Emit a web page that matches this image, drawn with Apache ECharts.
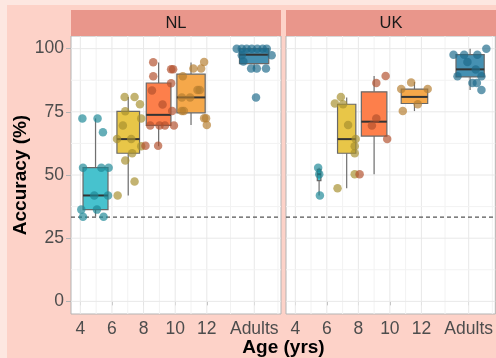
<!DOCTYPE html>
<html><head><meta charset="utf-8">
<script src="https://cdn.jsdelivr.net/npm/echarts@6/dist/echarts.min.js"></script>
<style>html,body{margin:0;padding:0;background:#fdd2c8}#c{width:496px;height:358px}</style>
</head><body><div id="c"></div>
<script>
// ---------- data ----------
const panels = ['NL', 'UK'];
const groups = ['4-5', '6-7', '8-9', '10-11', 'Adults'];
const xTickValues = [4, 6, 8, 10, 12, 15];
const xTickLabels = ['4', '6', '8', '10', '12', 'Adults'];
const xMinorBreaks = [5, 7, 9, 11, 13.5, 16.5];
const yTickValues = [0, 25, 50, 75, 100];
const yMinorBreaks = [12.5, 37.5, 62.5, 87.5];
const chanceLevel = 33.33;

// box stats per group: [xCenter, width, lowerWhisker, Q1, median, Q3, upperWhisker]
const nlBoxes = [
  [4.96, 1.58, 33.5, 36.3, 41.9, 52.9, 72.4],
  [7.03, 1.43, 41.9, 58.6, 64.2, 75.2, 80.9],
  [8.95, 1.56, 61.4, 69.6, 73.8, 86.4, 94.5],
  [11.00, 1.79, 69.8, 74.6, 80.7, 89.9, 94.5],
  [14.99, 1.85, 92.1, 94.1, 97.6, 100, 100]
];
const ukBoxes = [
  [5.51, 0.23, 41.9, 47.8, 50.3, 52.2, 52.9],
  [7.26, 1.16, 44.8, 58.6, 64.2, 78.0, 80.7],
  [9.00, 1.62, 50.3, 65.4, 71.1, 82.9, 89.2],
  [11.56, 1.68, 75.3, 78.3, 80.9, 84.0, 86.8],
  [15.09, 1.79, 83.6, 88.8, 91.8, 97.6, 100]
];

// jittered individual points [age, accuracy]
const nlPts45 = [[4.13,72.4],[5.09,72.4],[5.43,66.9],[4.17,52.9],[5.33,52.9],[5.79,52.9],[4.88,41.9],[5.75,41.9],[4.06,36.3],[5.05,36.3],[4.17,33.5],[5.47,33.5]];
const nlPts67 = [[6.80,80.9],[7.43,80.9],[7.77,78.0],[6.84,75.2],[7.85,72.4],[6.69,69.6],[6.32,64.2],[7.22,64.2],[7.85,61.4],[7.28,58.6],[6.84,55.7],[7.43,47.4],[6.36,41.9]];
const nlPts89 = [[8.61,94.6],[9.74,91.8],[9.87,91.8],[8.61,89.1],[9.74,86.3],[8.53,83.4],[9.20,77.9],[9.81,75.3],[8.42,69.6],[9.01,69.6],[9.35,69.6],[9.92,69.6],[8.92,61.6],[8.12,61.6]];
const nlPts1011 = [[11.83,94.7],[11.15,92.1],[11.64,92.1],[10.48,89.1],[11.41,83.6],[11.55,83.6],[10.42,80.7],[10.94,80.7],[10.42,75.3],[10.55,75.3],[11.83,72.5],[11.95,72.5],[12.0,69.8]];
const nlPtsAd = [[13.89,100],[14.21,100],[14.52,100],[14.84,100],[15.19,100],[15.53,100],[15.79,100],[16.10,97.4],[14.21,97.4],[14.31,94.9],[14.80,92.1],[15.16,92.1],[15.74,92.1],[15.11,80.7]];
const ukPts45 = [[5.45,52.9],[5.52,50.3],[5.56,41.9]];
const ukPts67 = [[6.89,80.9],[6.51,78.3],[7.03,78.0],[7.35,69.8],[7.83,64.2],[7.77,61.4],[7.77,58.6],[7.77,50.3],[6.68,44.8]];
const ukPts89 = [[9.73,89.2],[9.14,86.4],[9.14,72.4],[8.86,69.6],[9.83,64.2],[8.08,50.3]];
const ukPts1011 = [[11.35,86.6],[10.72,84.0],[12.40,84.0],[11.77,78.0],[10.82,75.3]];
const ukPtsAd = [[14.04,97.6],[14.71,97.6],[15.55,97.6],[16.12,100],[14.92,94.7],[15.45,91.7],[14.29,89.1],[15.81,89.1],[15.24,86.4],[15.52,86.4],[15.81,83.6]];

const nlPoints = [nlPts45, nlPts67, nlPts89, nlPts1011, nlPtsAd];
const ukPoints = [ukPts45, ukPts67, ukPts89, ukPts1011, ukPtsAd];

// ---------- styles ----------
const boxFill = ['#47c2ce', '#e8c648', '#fd7f4b', '#f5a84a', '#4590b2'];
const ptColor = ['#1c8796', '#a68f2e', '#b2502c', '#b57d2f', '#1d6a8a'];
const FONT = 'Liberation Sans, Arial, sans-serif';

const chart = echarts.init(document.getElementById('c'), null, {renderer: 'canvas'});

const gridDefs = [
  {left: 71, top: 36, width: 210, height: 278},
  {left: 286, top: 36, width: 210, height: 278}
];

const grids = gridDefs.map(g => Object.assign({show: true, backgroundColor: '#ffffff', borderColor: '#b3b3b3', borderWidth: 1}, g));

const xAxes = panels.map((p, i) => ({
  type: 'value', gridIndex: i, min: 3.41, max: 16.69,
  axisLine: {show: false},
  splitLine: {show: false},
  axisTick: {show: true, customValues: xTickValues, length: 4, lineStyle: {color: '#b3b3b3'}},
  axisLabel: {customValues: xTickValues, margin: 6, fontSize: 17.5, color: '#4d4d4d', fontFamily: FONT,
    formatter: v => { const k = xTickValues.indexOf(v); return k >= 0 ? xTickLabels[k] : ''; }}
}));
const yAxes = panels.map((p, i) => ({
  type: 'value', gridIndex: i, min: -5, max: 105,
  axisLine: {show: false},
  splitLine: {show: false},
  axisTick: {show: i === 0, customValues: yTickValues, length: 5, lineStyle: {color: '#b3b3b3'}},
  axisLabel: {show: i === 0, customValues: yTickValues, margin: 7, fontSize: 17.5, color: '#4d4d4d', fontFamily: FONT}
}));

const series = [];
// grid lines + chance line
panels.forEach((p, i) => {
  const gdata = [];
  xTickValues.forEach(v => gdata.push([v, 0, 1]));
  xMinorBreaks.forEach(v => gdata.push([v, 0, 0]));
  yTickValues.forEach(v => gdata.push([v, 1, 1]));
  yMinorBreaks.forEach(v => gdata.push([v, 1, 0]));
  gdata.push([chanceLevel, 1, 2]);
  series.push({
    type: 'custom', xAxisIndex: i, yAxisIndex: i, silent: true, z: 1,
    data: gdata,
    renderItem: (params, api) => {
      const cs = params.coordSys;
      const v = api.value(0), orient = api.value(1), kind = api.value(2);
      let shape;
      if (orient === 0) {
        const x = api.coord([v, 0])[0];
        shape = {x1: x, y1: cs.y, x2: x, y2: cs.y + cs.height};
      } else {
        const y = api.coord([4, v])[1];
        shape = {x1: cs.x, y1: y, x2: cs.x + cs.width, y2: y};
      }
      let style;
      if (kind === 1) style = {stroke: '#e8e8e8', lineWidth: 1};
      else if (kind === 0) style = {stroke: '#f2f2f2', lineWidth: 1};
      else style = {stroke: '#555555', lineWidth: 1.1, lineDash: [4, 3]};
      return {type: 'line', shape: shape, style: style, z2: kind === 2 ? 5 : 0};
    }
  });
});

// boxes
[nlBoxes, ukBoxes].forEach((boxes, i) => {
  series.push({
    type: 'custom', xAxisIndex: i, yAxisIndex: i, silent: true, z: 2,
    data: boxes.map((b, gi) => b.concat([gi])),
    renderItem: (params, api) => {
      const xc = api.value(0), w = api.value(1);
      const lo = api.value(2), q1 = api.value(3), med = api.value(4), q3 = api.value(5), hi = api.value(6);
      const gi = api.value(7);
      const tl = api.coord([xc - w / 2, q3]);
      const br = api.coord([xc + w / 2, q1]);
      const cHi = api.coord([xc, hi]), cQ3 = api.coord([xc, q3]), cQ1 = api.coord([xc, q1]), cLo = api.coord([xc, lo]);
      const mL = api.coord([xc - w / 2, med]), mR = api.coord([xc + w / 2, med]);
      return {type: 'group', children: [
        {type: 'line', shape: {x1: cHi[0], y1: cHi[1], x2: cQ3[0], y2: cQ3[1]}, style: {stroke: '#707070', lineWidth: 1.2}},
        {type: 'line', shape: {x1: cQ1[0], y1: cQ1[1], x2: cLo[0], y2: cLo[1]}, style: {stroke: '#707070', lineWidth: 1.2}},
        {type: 'rect', shape: {x: tl[0], y: tl[1], width: br[0] - tl[0], height: br[1] - tl[1]}, style: {fill: boxFill[gi], stroke: '#686868', lineWidth: 1.2}},
        {type: 'line', shape: {x1: mL[0], y1: mL[1], x2: mR[0], y2: mR[1]}, style: {stroke: '#333333', lineWidth: 2}}
      ]};
    }
  });
});

// points
[nlPoints, ukPoints].forEach((pts, i) => {
  pts.forEach((arr, gi) => {
    series.push({
      type: 'scatter', xAxisIndex: i, yAxisIndex: i, silent: true, z: 3,
      symbolSize: 8.5, data: arr,
      itemStyle: {color: ptColor[gi], opacity: 0.68}
    });
  });
});

const graphic = [
  {type: 'rect', shape: {x: 0, y: 0, width: 496, height: 5}, style: {fill: '#fde7e1'}, silent: true},
  {type: 'rect', shape: {x: 0, y: 0, width: 7, height: 358}, style: {fill: '#fde7e1'}, silent: true},
  {type: 'rect', shape: {x: 71, y: 10, width: 210, height: 26}, style: {fill: '#e9968b'}, silent: true},
  {type: 'rect', shape: {x: 286, y: 10, width: 210, height: 26}, style: {fill: '#e9968b'}, silent: true},
  {type: 'text', x: 176, y: 23, silent: true, style: {text: panels[0], font: '16.5px ' + FONT, fill: '#1a1a1a', textAlign: 'center', textVerticalAlign: 'middle'}},
  {type: 'text', x: 391, y: 23, silent: true, style: {text: panels[1], font: '16.5px ' + FONT, fill: '#1a1a1a', textAlign: 'center', textVerticalAlign: 'middle'}},
  {type: 'text', x: 283.5, y: 348, silent: true, style: {text: 'Age (yrs)', font: 'bold 19px ' + FONT, fill: '#000', textAlign: 'center', textVerticalAlign: 'middle'}},
  {type: 'text', x: 21, y: 175, rotation: Math.PI / 2, silent: true, style: {text: 'Accuracy (%)', font: 'bold 19px ' + FONT, fill: '#000', textAlign: 'center', textVerticalAlign: 'middle'}}
];

chart.setOption({
  backgroundColor: '#fdd2c8',
  animation: false,
  grid: grids,
  xAxis: xAxes,
  yAxis: yAxes,
  series: series,
  graphic: graphic
});
</script>
</body></html>
